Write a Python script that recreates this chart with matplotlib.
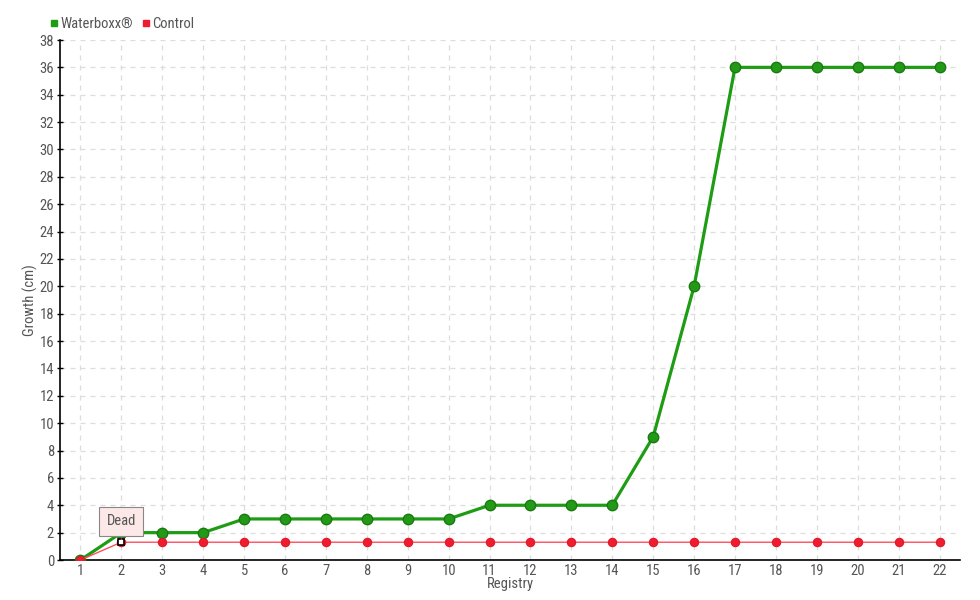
import matplotlib
matplotlib.use("Agg")
from matplotlib import pyplot as plt
from matplotlib import font_manager
from matplotlib.lines import Line2D

registry = list(range(1, 23))
waterboxx = [0, 2, 2, 2, 3, 3, 3, 3, 3, 3, 4, 4, 4, 4, 9, 20, 36, 36, 36, 36, 36, 36]
control = [0] + [1.3] * 21
y_ticks = list(range(0, 39, 2))

# pick a narrow font if one is installed
family = 'DejaVu Sans'
for cand in ['Liberation Sans Narrow', 'DejaVu Sans Condensed', 'Roboto Condensed']:
    try:
        font_manager.findfont(cand, fallback_to_default=False)
        family = cand
        break
    except ValueError:
        pass
plt.rcParams['font.family'] = [family, 'DejaVu Sans']
plt.rcParams['font.stretch'] = 'condensed'
text_col = '#555555'
fs = 10.5

fig = plt.figure(figsize=(9.8, 6.0), dpi=100)
ax = fig.add_axes([60 / 980, 40 / 600, 900 / 980, 520 / 600])

ax.plot(registry, waterboxx, color='#1e9c14', lw=2.3, marker='o', ms=7.5,
        mfc='#229a17', mec='#197a10', mew=1, zorder=3)
ax.plot(registry, control, color='#ff4d5e', lw=1, marker='o', ms=6,
        mfc='#ee1c2e', mec='#e01828', mew=0.8, zorder=4)
# highlighted point
ax.plot(registry[1], control[1], marker='s', ms=5, mfc='white', mec='black',
        mew=1.2, zorder=6)

ax.set_xlim(0.5, 22.5)
ax.set_ylim(0, 38)
ax.set_xticks(registry)
ax.set_yticks(y_ticks)
ax.grid(True, ls=(0, (4, 4)), color='#dddddd', lw=0.9)
ax.set_axisbelow(True)
for s in ['top', 'right']:
    ax.spines[s].set_visible(False)
ax.spines['left'].set_linewidth(1.2)
ax.spines['bottom'].set_linewidth(1.2)
ax.tick_params(labelsize=fs, labelcolor=text_col)
ax.tick_params(axis='y', direction='inout', length=4.5, width=1, pad=2)
ax.tick_params(axis='x', length=0, pad=3)
ax.set_xlabel('Registry', fontsize=fs, color=text_col, labelpad=-1)
ax.set_ylabel('Growth (cm)', fontsize=fs, color=text_col, labelpad=1)

ax.annotate('Dead', xy=(registry[1], control[1]), xytext=(0, 15),
            textcoords='offset points', ha='center', va='center',
            fontsize=fs, color=text_col, zorder=7,
            bbox=dict(boxstyle='square,pad=0.5', fc='#fde8e8', ec='#888888', lw=0.8),
            arrowprops=dict(arrowstyle='-', color='#888888', lw=0.8))

handles = [Line2D([], [], ls='', marker='s', ms=4.5, color='#1e9c14'),
           Line2D([], [], ls='', marker='s', ms=4.5, color='#ee1c2e')]
fig.legend(handles, ['Waterboxx®', 'Control'], loc='upper left',
           bbox_to_anchor=(42 / 980, 1 - 10 / 600), ncol=2, frameon=False,
           fontsize=fs, labelcolor=text_col, handletextpad=0.1,
           columnspacing=0.5, handlelength=0.7, borderpad=0)

fig.savefig('out.png', dpi=100)
